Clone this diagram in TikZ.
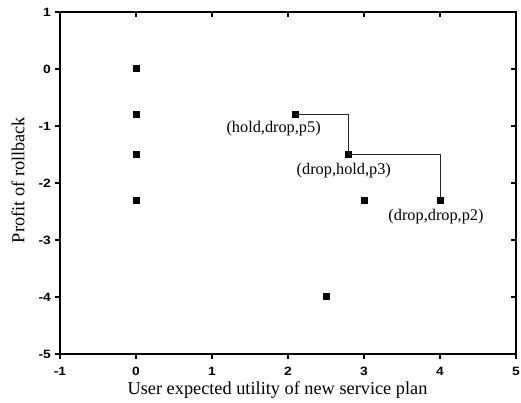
\documentclass[tikz,border=0pt]{standalone}
\usepackage{fontspec}
\usepackage{graphicx}
\setmainfont{Liberation Serif}
\newfontfamily\arialbold{Liberation Sans}[BoldFont={* Bold}]
\newcommand\tickstretch[1]{\scalebox{1.15}[1]{#1}}
\tikzset{
  frameline/.style={line width=1.3pt, black},
  tickline/.style={line width=1.1pt, black},
  ticklab/.style={font=\arialbold\bfseries\fontsize{12}{13}\selectfont, inner sep=0pt},
  datapt/.style={rectangle, fill=black, minimum size=7pt, inner sep=0pt},
  datalab/.style={font=\fontsize{16.3}{18}\selectfont, inner sep=0pt},
  axislab/.style={font=\fontsize{18.3}{20}\selectfont, inner sep=0pt},
  link/.style={line width=0.8pt, black!85}
}
\begin{document}
\begin{tikzpicture}[x=1pt,y=1pt]
\useasboundingbox (0,0) rectangle (521,403);
\begin{scope}[shift={(136,334)}, x=76pt, y=57pt]
  % frame
  \draw[frameline] (-1,-5) rectangle (5,1);
  % ticks
  \foreach \t in {-1,0,...,5} {
    \draw[tickline] (\t,-5) -- ++(0,-5pt);
    \draw[tickline] (\t,1) -- ++(0,-5pt);
    \node[ticklab] (xt\t) at ([yshift=-17pt]\t,-5) {\tickstretch{\t}};
  }
  \foreach \t in {-5,-4,...,1} {
    \draw[tickline] (-1,\t) -- ++(-5pt,0);
    \draw[tickline] (5,\t) -- ++(-5pt,0);
    \node[ticklab, anchor=east] (yt\t) at ([xshift=-9pt]-1,\t) {\tickstretch{\t}};
  }
  % data points
  \node[datapt] (a1) at (0,0) {};
  \node[datapt] (a2) at (0,-0.8) {};
  \node[datapt] (a3) at (0,-1.5) {};
  \node[datapt] (a4) at (0,-2.3) {};
  \node[datapt] (p5) at (2.1,-0.8) {};
  \node[datapt] (p3) at (2.8,-1.5) {};
  \node[datapt] (q3) at (3,-2.3) {};
  \node[datapt] (p2) at (4,-2.3) {};
  \node[datapt] (q4) at (2.5,-4) {};
  % connectors
  \draw[link] (p5.center) -| (p3.center);
  \draw[link] (p3.center) -| (p2.center);
  % data labels
  \node[datalab] (l5) at ([xshift=-22pt,yshift=-14pt]p5.center) {(hold,drop,p5)};
  \node[datalab] (l3) at ([xshift=-5pt,yshift=-16pt]p3.center) {(drop,hold,p3)};
  \node[datalab] (l2) at ([xshift=-4pt,yshift=-16pt]p2.center) {(drop,drop,p2)};
\end{scope}
% axis labels
\node[axislab, anchor=base] (xlab) at (277.5,8) {User expected utility of new service plan};
\node[axislab, rotate=90] (ylab) at (18,223) {Profit of rollback};
\end{tikzpicture}
\end{document}
